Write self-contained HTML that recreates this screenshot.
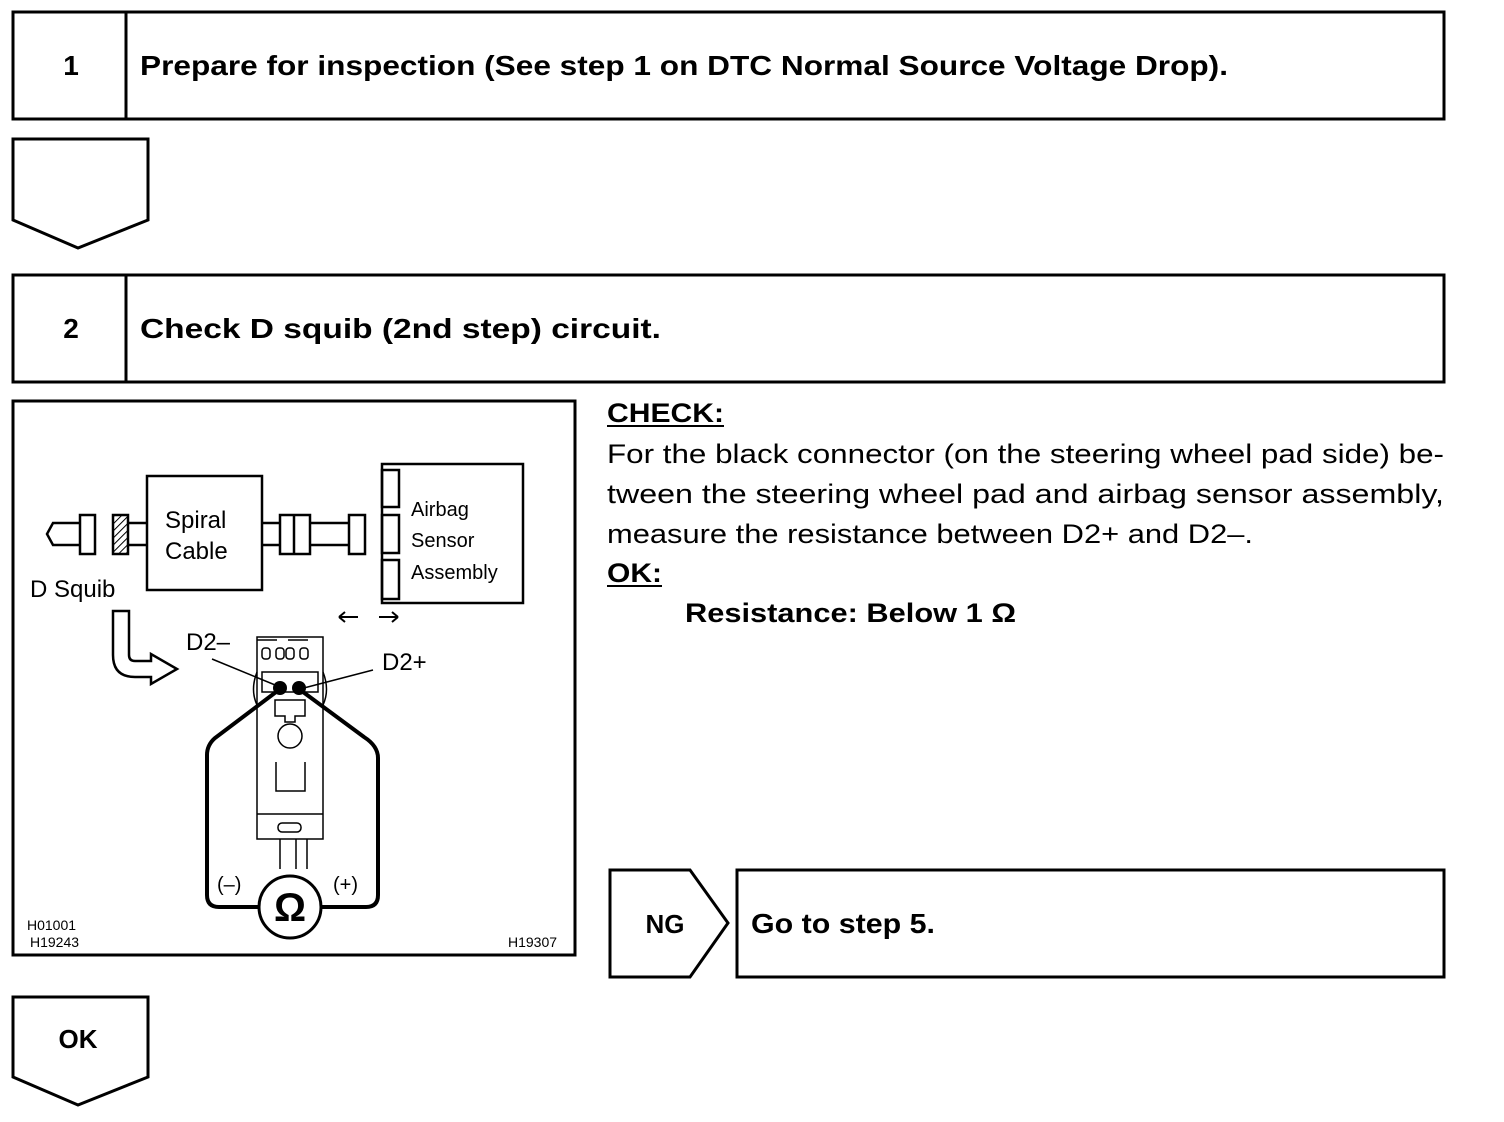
<!DOCTYPE html>
<html><head><meta charset="utf-8"><style>
html,body{margin:0;padding:0;background:#fff;}
svg{display:block;}
text{font-family:"Liberation Sans",Arial,sans-serif;fill:#000;}
</style></head><body>
<svg width="1504" height="1122" viewBox="0 0 1504 1122" xmlns="http://www.w3.org/2000/svg">
<defs>
<pattern id="h" width="5" height="5" patternUnits="userSpaceOnUse" patternTransform="rotate(45)"><line x1="0" y1="0" x2="0" y2="5" stroke="#000" stroke-width="2"/></pattern>
</defs>
<g fill="none" stroke="#000" stroke-width="3">
<rect x="13" y="12" width="1431" height="107"/>
<line x1="126" y1="12" x2="126" y2="119"/>
<path d="M13,139 H148 V220 L78,248 L13,220 Z"/>
<rect x="13" y="275" width="1431" height="107"/>
<line x1="126" y1="275" x2="126" y2="382"/>
<rect x="13" y="401" width="562" height="554"/>
<path d="M610,870 H690 L728,923 L690,977 H610 Z"/>
<rect x="737" y="870" width="707" height="107"/>
<path d="M13,997 H148 V1077 L78,1105 L13,1077 Z"/>
</g>
<g font-weight="bold" font-size="28">
<text x="71" y="75" text-anchor="middle">1</text>
<text x="140" y="75" textLength="1088" lengthAdjust="spacingAndGlyphs">Prepare for inspection (See step 1 on DTC Normal Source Voltage Drop).</text>
<text x="71" y="338" text-anchor="middle">2</text>
<text x="140" y="338" textLength="521" lengthAdjust="spacingAndGlyphs">Check D squib (2nd step) circuit.</text>
<text x="665" y="933" text-anchor="middle" font-size="26">NG</text>
<text x="751" y="933" textLength="184" lengthAdjust="spacingAndGlyphs">Go to step 5.</text>
<text x="78" y="1048" text-anchor="middle" font-size="26">OK</text>
</g>
<g font-size="27">
<text x="607" y="422" font-weight="bold" textLength="117" lengthAdjust="spacingAndGlyphs">CHECK:</text>
<line x1="607" y1="426" x2="724" y2="426" stroke="#000" stroke-width="2"/>
<text x="607" y="463" textLength="837" lengthAdjust="spacingAndGlyphs">For the black connector (on the steering wheel pad side) be-</text>
<text x="607" y="503" textLength="837" lengthAdjust="spacingAndGlyphs">tween  the  steering  wheel  pad  and  airbag  sensor  assembly,</text>
<text x="607" y="543" textLength="646" lengthAdjust="spacingAndGlyphs">measure the resistance between D2+ and D2–.</text>
<text x="607" y="582" font-weight="bold" textLength="55" lengthAdjust="spacingAndGlyphs">OK:</text>
<line x1="607" y1="586" x2="662" y2="586" stroke="#000" stroke-width="2"/>
<text x="685" y="622" font-weight="bold" textLength="331" lengthAdjust="spacingAndGlyphs">Resistance: Below 1 Ω</text>
</g>
<!-- diagram -->
<g fill="none" stroke="#000" stroke-width="2.5">
<rect x="147" y="476" width="115" height="114"/>
<rect x="382" y="464" width="141" height="139"/>
<rect x="382" y="470" width="17" height="37"/>
<rect x="382" y="515" width="17" height="38"/>
<rect x="382" y="560" width="17" height="39"/>
<path d="M80,523 H53 L47,534 L53,545 H80"/>
<rect x="80" y="515" width="15" height="39" fill="#fff"/>
<rect x="113" y="515" width="15" height="39" fill="url(#h)"/>
<line x1="128" y1="523" x2="147" y2="523"/><line x1="128" y1="545" x2="147" y2="545"/>
<line x1="262" y1="523" x2="280" y2="523"/><line x1="262" y1="545" x2="280" y2="545"/>
<rect x="280" y="515" width="30" height="39"/><line x1="294" y1="515" x2="294" y2="554"/>
<line x1="310" y1="523" x2="349" y2="523"/><line x1="310" y1="545" x2="349" y2="545"/>
<rect x="349" y="515" width="16" height="39"/>
<path d="M113,611 L129,611 L129,655 Q129,661 135,661 L151,661 L151,654 L177,669 L151,684 L151,677 L135,677 Q113,677 113,655 Z"/>
</g>
<g fill="none" stroke="#000" stroke-width="1.5">
<path d="M339,617 h19 M339,617 l6,-5 M339,617 l6,5 M379,617 h19 M398,617 l-6,-5 M398,617 l-6,5" stroke-width="2"/>
<rect x="257" y="637" width="66" height="202"/>
<path d="M257,640 h20 M288,640 h20"/>
<rect x="262" y="648" width="8" height="11" rx="3"/><rect x="276" y="648" width="8" height="11" rx="3"/><rect x="286" y="648" width="8" height="11" rx="3"/><rect x="300" y="648" width="8" height="11" rx="3"/>
<path d="M257,672 Q250,690 257,705 M323,672 Q330,690 323,705"/>
<rect x="262" y="672" width="56" height="20"/>
<path d="M275,700 h30 v16 h-10 v6 h-10 v-6 h-10 z"/>
<circle cx="290" cy="736" r="12"/>
<path d="M276,762 v29 h29 v-29"/>
<line x1="257" y1="814" x2="323" y2="814"/>
<rect x="278" y="823" width="23" height="9" rx="4"/>
<line x1="280" y1="839" x2="280" y2="869"/><line x1="296" y1="839" x2="296" y2="869"/><line x1="307" y1="839" x2="307" y2="869"/>
<line x1="212" y1="659" x2="280" y2="687"/><line x1="373" y1="670" x2="300" y2="689"/>
</g>
<circle cx="280" cy="688" r="7"/><circle cx="299" cy="688" r="7"/>
<g fill="none" stroke="#000" stroke-width="4">
<path d="M280,689 L215,738 Q207,745 207,755 L207,895 Q207,907 219,907 L259,907"/>
<path d="M299,689 L364,737 Q378,746 378,758 L378,895 Q378,907 366,907 L322,907"/>
<circle cx="290" cy="907" r="31" stroke-width="3"/>
</g>
<text x="290" y="921" text-anchor="middle" font-size="40" font-weight="bold">Ω</text>
<g font-size="24">
<text x="165" y="528">Spiral</text>
<text x="165" y="559">Cable</text>
<text x="30" y="597">D Squib</text>
<text x="186" y="650">D2–</text>
<text x="382" y="670">D2+</text>
<text x="217" y="891" font-size="20">(–)</text>
<text x="333" y="891" font-size="20">(+)</text>
</g>
<g font-size="20">
<text x="411" y="516">Airbag</text>
<text x="411" y="547">Sensor</text>
<text x="411" y="579">Assembly</text>
</g>
<g font-size="14">
<text x="27" y="930">H01001</text>
<text x="30" y="947">H19243</text>
<text x="508" y="947">H19307</text>
</g>
</svg>
</body></html>
